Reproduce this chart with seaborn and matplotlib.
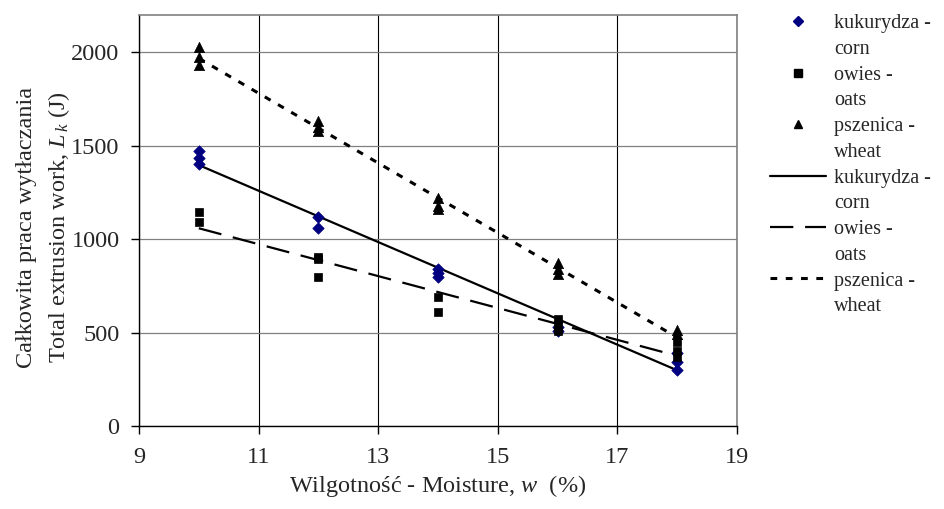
"""Total extrusion work vs moisture for corn, oats and wheat, with linear trends."""

import matplotlib
matplotlib.use("Agg")
import matplotlib.pyplot as plt
from matplotlib.lines import Line2D
import numpy as np
import pandas as pd
import seaborn as sns

corn_w = [10, 10, 10, 12, 12, 14, 14, 14, 16, 16, 18, 18, 18]
corn_L = [1470, 1435, 1400, 1120, 1060, 840, 820, 800, 530, 510, 390, 340, 300]

oats_w = [10, 10, 12, 12, 12, 14, 14, 16, 16, 16, 18, 18, 18]
oats_L = [1145, 1090, 905, 895, 800, 690, 610, 575, 540, 510, 450, 400, 370]

wheat_w = [10, 10, 10, 12, 12, 12, 14, 14, 14, 16, 16, 16, 18, 18]
wheat_L = [2030, 1975, 1935, 1630, 1600, 1580, 1220, 1180, 1160, 870, 840, 815, 515, 490]

labels_pts = ["kukurydza -", "owies -", "pszenica -"]
labels_2nd = ["corn", "oats", "wheat"]

x_ticks = [9, 11, 13, 15, 17, 19]
y_ticks = [0, 500, 1000, 1500, 2000]

sns.set_style("white")
plt.rcParams["font.family"] = ["Liberation Serif", "DejaVu Serif"]
plt.rcParams["mathtext.fontset"] = "custom"
plt.rcParams["mathtext.rm"] = "Liberation Serif"
plt.rcParams["mathtext.it"] = "Liberation Serif:italic"

df = pd.concat([
    pd.DataFrame({"w": corn_w, "L": corn_L, "grain": "corn"}),
    pd.DataFrame({"w": oats_w, "L": oats_L, "grain": "oats"}),
    pd.DataFrame({"w": wheat_w, "L": wheat_L, "grain": "wheat"}),
])

fig = plt.figure(figsize=(9.44, 5.09), dpi=100)
ax = fig.add_axes([139 / 944, 1 - 426 / 509, 598 / 944, 411 / 509])

styles = {
    "corn": dict(marker="D", s=34, color="#000080", ls="-", dashes=None, lw=1.6),
    "oats": dict(marker="s", s=40, color="black", ls="--", dashes=(10.5, 5.3), lw=1.6),
    "wheat": dict(marker="^", s=55, color="black", ls=":", dashes=(2.2, 2.8), lw=2.2),
}

for grain, st in styles.items():
    sub = df[df["grain"] == grain]
    line_kws = dict(color="black", lw=st["lw"])
    if st["dashes"] is not None:
        line_kws["dashes"] = st["dashes"]
    sns.regplot(data=sub, x="w", y="L", scatter=False, ci=None, ax=ax,
                line_kws=line_kws)
    sns.scatterplot(data=sub, x="w", y="L", marker=st["marker"], s=st["s"],
                    color=st["color"], edgecolor=st["color"], linewidth=0.5,
                    ax=ax, zorder=3)

ax.set_xlim(9, 19)
ax.set_ylim(0, 2200)
ax.set_xticks(x_ticks)
ax.set_yticks(y_ticks)
ax.tick_params(axis="both", direction="out", length=6, width=1, color="black",
               labelsize=17.5, left=True, bottom=True)
ax.tick_params(axis="x", pad=9)
ax.tick_params(axis="y", pad=8)

ax.yaxis.grid(True, color="#808080", lw=0.9)
ax.xaxis.grid(True, color="black", lw=0.8)
ax.set_axisbelow(True)
for side in ["top", "right"]:
    ax.spines[side].set_color("#808080")
    ax.spines[side].set_linewidth(1.2)
for side in ["left", "bottom"]:
    ax.spines[side].set_color("black")
    ax.spines[side].set_linewidth(1)

ax.set_xlabel(r"Wilgotność - Moisture, $w$  (%)", fontsize=17.5, labelpad=4)
ax.set_ylabel("Całkowita praca wytłaczania\nTotal extrusion work, $L_{\\,k}$ (J)",
              fontsize=17.5, linespacing=1.5)
ax.yaxis.set_label_coords(-0.112, 0.484)

# legend: first line carries the handle, second line has an empty one
blank = Line2D([], [], ls="none", marker=None)
handles, texts = [], []
for grain, lab1, lab2 in zip(styles, labels_pts, labels_2nd):
    st = styles[grain]
    handles += [Line2D([], [], ls="none", marker=st["marker"], color=st["color"],
                       ms=np.sqrt(st["s"]) * 0.8), blank]
    texts += [lab1, lab2]
for grain, lab1, lab2 in zip(styles, labels_pts, labels_2nd):
    st = styles[grain]
    h = Line2D([], [], color="black", lw=st["lw"])
    if st["dashes"] is not None:
        h.set_dashes(st["dashes"])
    handles += [h, blank]
    texts += [lab1, lab2]

fig.legend(handles, texts, loc="upper left", bbox_to_anchor=(770 / 944, 1 - 14 / 509),
           frameon=False, fontsize=14.5, handlelength=2.8, handletextpad=0.4,
           labelspacing=0.33, borderaxespad=0, borderpad=0)

fig.savefig("out.png", dpi=100, facecolor="white")
